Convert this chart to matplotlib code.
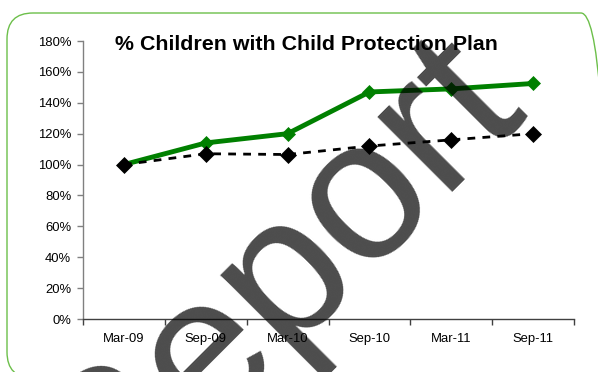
import matplotlib
matplotlib.use("Agg")
import matplotlib.pyplot as plt
from matplotlib.patches import FancyBboxPatch
from matplotlib.ticker import FixedLocator, NullFormatter, FixedFormatter

plt.rcParams['font.family'] = ['Liberation Sans', 'DejaVu Sans']

categories = ["Mar-09", "Sep-09", "Mar-10", "Sep-10", "Mar-11", "Sep-11"]
green_series = [100, 114, 120, 147, 149, 152.5]
black_series = [100, 107, 106.5, 112, 116, 120]
y_ticks = [0, 20, 40, 60, 80, 100, 120, 140, 160, 180]
y_tick_labels = [f"{v}%" for v in y_ticks]
title = "% Children with Child Protection Plan"
watermark = "Report"

W, H = 598, 372
fig = plt.figure(figsize=(W / 100, H / 100), dpi=100)
fig.patch.set_facecolor("white")

# rounded border (display/pixel coordinates)
border = FancyBboxPatch((7, -6), 600, 372 - 13 + 6,
                        boxstyle="round,pad=0,rounding_size=26",
                        transform=None, facecolor="none",
                        edgecolor="#6cbf4a", linewidth=1.0, zorder=-5)
fig.patches.append(border)

ax = fig.add_axes([83 / W, 1 - 319 / H, (574 - 83) / W, (319 - 41) / H])
ax.patch.set_alpha(0)
ax.set_zorder(2)

x = list(range(len(categories)))
ax.plot(x, green_series, color="#008000", lw=3.5,
        marker="D", ms=7.5, mew=0.5, mfc="#008000", mec="#008000", zorder=3)
ax.plot(x, black_series, color="black", lw=2.0, dashes=(2.8, 2.6),
        marker="D", ms=8, mew=0.5, mfc="black", mec="black", zorder=4)

ax.set_xlim(-0.5, len(categories) - 0.5)
ax.set_ylim(0, 180)

ax.yaxis.set_major_locator(FixedLocator(y_ticks))
ax.yaxis.set_major_formatter(FixedFormatter(y_tick_labels))
ax.tick_params(axis="y", direction="out", length=4, width=1, color="#808080",
               labelsize=9.4, pad=4.5, labelcolor="black")

ax.xaxis.set_major_locator(FixedLocator([i - 0.5 for i in range(len(categories) + 1)]))
ax.xaxis.set_major_formatter(NullFormatter())
ax.xaxis.set_minor_locator(FixedLocator(x))
ax.xaxis.set_minor_formatter(FixedFormatter(categories))
ax.tick_params(axis="x", which="major", direction="out", length=4, width=1, color="#404040")
ax.tick_params(axis="x", which="minor", length=0, labelsize=9.4, pad=10, labelcolor="black")

for s in ("top", "right"):
    ax.spines[s].set_visible(False)
ax.spines["left"].set_color("#808080")
ax.spines["bottom"].set_color("#404040")
ax.spines["left"].set_linewidth(1)
ax.spines["bottom"].set_linewidth(1)

fig.text(306 / W, 1 - 50 / H, title, ha="center", va="baseline",
         fontsize=15.4, fontweight="bold", color="black", zorder=5)

# watermark text, baseline along x + y = 625 px at 45 degrees
fig.text(101 / W, 1 - 527 / H, watermark, rotation=45, rotation_mode="anchor",
         ha="left", va="baseline", fontsize=144, color="black", alpha=0.7,
         zorder=10)

fig.savefig("out.png", dpi=100, facecolor="white")
